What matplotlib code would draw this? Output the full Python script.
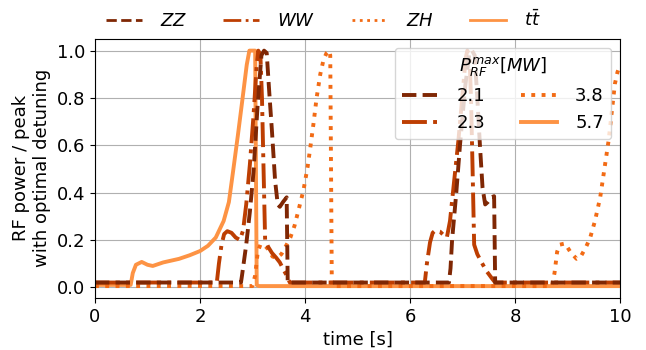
import matplotlib
matplotlib.use("Agg")
import matplotlib.pyplot as plt
from matplotlib.lines import Line2D

# RF power normalised to its peak
t_zz = [0, 2.78, 2.8, 2.88, 2.95, 3.02, 3.1, 3.17, 3.22, 3.27, 3.32, 3.37, 3.43, 3.48,
        3.52, 3.58, 3.65, 3.67, 6.74, 6.77, 6.8, 6.88, 6.95, 7.05, 7.13, 7.18, 7.23,
        7.28, 7.33, 7.38, 7.43, 7.48, 7.55, 7.6, 7.62, 10]
p_zz = [0.02, 0.02, 0.05, 0.18, 0.32, 0.49, 0.78, 0.98, 1.0, 0.99, 0.82, 0.66, 0.45, 0.35,
        0.34, 0.36, 0.38, 0.02, 0.02, 0.08, 0.2, 0.4, 0.6, 0.85, 0.99, 1.0, 0.98,
        0.8, 0.6, 0.42, 0.35, 0.36, 0.38, 0.385, 0.02, 0.02]

t_ww = [0, 2.32, 2.36, 2.41, 2.46, 2.52, 2.6, 2.68, 2.76, 2.82, 2.88, 2.95, 3.02, 3.08,
        3.11, 3.15, 3.18, 3.21, 3.24, 3.3, 3.37, 3.45, 3.52, 3.6, 3.65, 3.71,
        6.28, 6.32, 6.38, 6.43, 6.48, 6.57, 6.64, 6.7, 6.76, 6.83, 6.92, 7.0, 7.06,
        7.09, 7.13, 7.16, 7.19, 7.22, 7.28, 7.35, 7.45, 7.55, 7.62, 10]
p_ww = [0.02, 0.02, 0.1, 0.18, 0.225, 0.237, 0.23, 0.21, 0.2, 0.24, 0.35, 0.52, 0.73, 0.94,
        1.0, 0.98, 0.8, 0.5, 0.2, 0.17, 0.145, 0.125, 0.105, 0.07, 0.05, 0.02,
        0.02, 0.1, 0.19, 0.23, 0.24, 0.235, 0.22, 0.21, 0.28, 0.43, 0.62, 0.82, 0.97,
        1.0, 0.98, 0.8, 0.5, 0.18, 0.14, 0.11, 0.07, 0.04, 0.02, 0.02]

t_zh = [0, 3.0, 3.05, 3.1, 3.15, 3.22, 3.3, 3.38, 3.46, 3.55, 3.65, 3.72, 3.8, 3.88,
        3.97, 4.05, 4.1, 4.16, 4.22, 4.29, 4.35, 4.41, 4.46, 4.48, 4.51,
        8.7, 8.75, 8.8, 8.85, 8.95, 9.05, 9.17, 9.25, 9.35, 9.43, 9.52, 9.62, 9.7,
        9.78, 9.85, 9.9, 9.95, 10]
p_zh = [0.005, 0.005, 0.05, 0.15, 0.18, 0.18, 0.16, 0.13, 0.124, 0.14, 0.18, 0.21, 0.26, 0.33,
        0.41, 0.51, 0.59, 0.69, 0.8, 0.9, 0.96, 0.99, 1.0, 0.98, 0.005,
        0.005, 0.06, 0.15, 0.18, 0.185, 0.15, 0.12, 0.13, 0.17, 0.21, 0.28, 0.38, 0.5,
        0.62, 0.76, 0.86, 0.91, 0.94]

t_tt = [0, 0.68, 0.72, 0.78, 0.89, 1.0, 1.1, 1.3, 1.6, 1.8, 2.0, 2.15, 2.3, 2.45, 2.55,
        2.63, 2.72, 2.8, 2.89, 2.94, 3.05, 3.08, 3.12, 10]
p_tt = [0.01, 0.01, 0.06, 0.095, 0.107, 0.095, 0.09, 0.105, 0.12, 0.135, 0.153, 0.175,
        0.21, 0.28, 0.36, 0.49, 0.64, 0.78, 0.94, 1.0, 1.0, 0.01, 0.005, 0.005]

processes = ["$ZZ$", "$WW$", "$ZH$", r"$t\bar{t}$"]
p_max = ["2.1", "2.3", "3.8", "5.7"]

cmap = plt.cm.Oranges
colors = [cmap(1.0), cmap(0.82), cmap(0.62), cmap(0.48)]
styles = ["--", "-.", ":", "-"]

plt.rcParams["font.size"] = 13

fig = plt.figure(figsize=(6.46, 3.5), dpi=100)
ax = fig.add_axes([0.147, 0.149, 0.813, 0.74])

series = [(t_zz, p_zz), (t_ww, p_ww), (t_zh, p_zh), (t_tt, p_tt)]
lines = [None] * 4
# biggest power first so the darker curves sit on top
for i in [3, 2, 1, 0]:
    tt, pp = series[i]
    lines[i], = ax.plot(tt, pp, ls=styles[i], color=colors[i], lw=2.8, label=p_max[i])

ax.set_xlim(0, 10)
ax.set_xlabel("time [s]")
ax.set_ylabel("RF power / peak\nwith optimal detuning")
ax.grid(True)

ax.legend(handles=lines, labels=p_max, title="$P_{RF}^{max}[MW]$", ncol=2,
          loc="upper right", handletextpad=1.0)

proc_handles = [Line2D([], [], ls=styles[i], color=colors[i], lw=2) for i in range(4)]
fig.legend(proc_handles, processes, loc="upper center", ncol=4, frameon=False,
           bbox_to_anchor=(0.5, 1.02), handletextpad=1.0)

fig.savefig("out.png", dpi=100)
